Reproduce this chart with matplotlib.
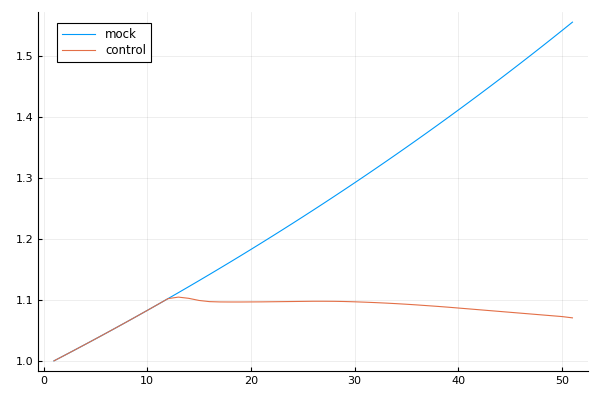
import numpy as np
import matplotlib
matplotlib.use("Agg")
import matplotlib.pyplot as plt

steps = list(range(1, 52))
mock = [1.0, 1.00887, 1.01782, 1.02685, 1.03596, 1.04515, 1.05442, 1.06377, 1.07321, 1.08273,
        1.09233, 1.10202, 1.11180, 1.12166, 1.13161, 1.14165, 1.15178, 1.16199, 1.17230, 1.18270,
        1.19319, 1.20378, 1.21446, 1.22523, 1.23610, 1.24706, 1.25812, 1.26928, 1.28054, 1.29190,
        1.30336, 1.31492, 1.32659, 1.33836, 1.35023, 1.36221, 1.37429, 1.38648, 1.39878, 1.41119,
        1.42371, 1.43634, 1.44908, 1.46193, 1.47490, 1.48799, 1.50119, 1.51450, 1.52794, 1.54149,
        1.55517]
control = [1.0, 1.00887, 1.01782, 1.02685, 1.03596, 1.04515, 1.05442, 1.06377, 1.07321, 1.08273,
           1.09233, 1.10202, 1.1045, 1.1025, 1.0990, 1.0971, 1.0966, 1.0965, 1.0965, 1.0966,
           1.0967, 1.0969, 1.0971, 1.0973, 1.0975, 1.0977, 1.0977, 1.0976, 1.0973, 1.0968,
           1.0962, 1.0955, 1.0947, 1.0938, 1.0928, 1.0917, 1.0905, 1.0893, 1.0880, 1.0866,
           1.0852, 1.0838, 1.0824, 1.0810, 1.0796, 1.0782, 1.0768, 1.0754, 1.0740, 1.0726,
           1.0705]

fig = plt.figure(figsize=(6, 4), dpi=100)
ax = fig.add_axes([0.064, 0.0725, 0.916, 0.8975])

ax.plot(steps, mock, color="#009AFA", lw=0.8, label="mock")
ax.plot(steps, control, color="#E36F47", lw=0.8, label="control")

ax.set_xlim(-0.5, 52.5)
ax.set_ylim(0.9834, 1.5718)
ax.set_xticks([0, 10, 20, 30, 40, 50])
ax.set_yticks([1.0, 1.1, 1.2, 1.3, 1.4, 1.5])
ax.yaxis.set_major_formatter(plt.FuncFormatter('{:.1f}'.format))

ax.grid(True, color="black", alpha=0.08, lw=0.6)
for s in ["top", "right"]:
    ax.spines[s].set_visible(False)
ax.tick_params(direction="in", length=3, labelsize=8, colors="black")

leg = ax.legend(loc="upper left", bbox_to_anchor=(0.034, 0.97), fontsize=8.5,
                fancybox=False, edgecolor="black", framealpha=1,
                handlelength=2.8, labelspacing=0.25, borderpad=0.45,
                borderaxespad=0)
leg.get_frame().set_linewidth(0.8)

fig.savefig("out.png", dpi=100)
